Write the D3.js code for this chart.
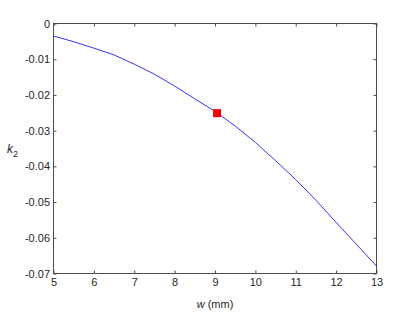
<!DOCTYPE html>
<html><head><meta charset="utf-8">
<script src="https://cdn.jsdelivr.net/npm/d3@7"></script>
<style>body{margin:0;background:#fff}svg{display:block}text{font-family:"Liberation Sans",Arial,sans-serif}</style>
</head><body>
<script>
const widths = [5, 5.5, 6, 6.5, 7, 7.5, 8, 8.5, 9, 9.5, 10, 10.5, 11, 11.5, 12, 12.5, 13];
const k2 = [-0.0035, -0.0051, -0.0069, -0.0088, -0.0114, -0.0142, -0.0175, -0.0211, -0.0246,
            -0.0287, -0.0333, -0.0384, -0.0437, -0.0495, -0.0557, -0.0618, -0.0679];
const markerW = [9.05];
const markerK = [-0.0251];
const xTicks = [5, 6, 7, 8, 9, 10, 11, 12, 13];
const yTicks = [0, -0.01, -0.02, -0.03, -0.04, -0.05, -0.06, -0.07];

const W = 415, H = 312;
const m = {l: 53.5, r: 376.5, t: 23.5, b: 273.5};
const svg = d3.select("body").append("svg").attr("width", W).attr("height", H);
const x = d3.scaleLinear().domain([5, 13]).range([m.l, m.r]);
const y = d3.scaleLinear().domain([-0.07, 0]).range([m.b, m.t]);
const fmt = d => d === 0 ? "0" : d3.format(".2f")(d).replace("−", "-");

const ax = "#4d4d4d";
svg.append("rect").attr("x", m.l).attr("y", m.t).attr("width", m.r - m.l).attr("height", m.b - m.t)
  .attr("fill", "none").attr("stroke", ax).attr("stroke-width", 1);

const xb = svg.append("g").attr("transform", `translate(0,${m.b})`)
  .call(d3.axisBottom(x).tickValues(xTicks).tickSize(-3).tickPadding(4.5).tickFormat(d3.format("d")));
const xt = svg.append("g").attr("transform", `translate(0,${m.t})`)
  .call(d3.axisTop(x).tickValues(xTicks).tickSize(-3).tickFormat(""));
const yl = svg.append("g").attr("transform", `translate(${m.l},0)`)
  .call(d3.axisLeft(y).tickValues(yTicks).tickSize(-3).tickPadding(3.5).tickFormat(fmt));
const yr = svg.append("g").attr("transform", `translate(${m.r},0)`)
  .call(d3.axisRight(y).tickValues(yTicks).tickSize(-3).tickFormat(""));
[xb, xt, yl, yr].forEach(g => {
  g.select(".domain").remove();
  g.selectAll(".tick line").attr("stroke", ax);
  g.selectAll("text").attr("fill", "#262626").style("font-size", "11px").style("font-family", '"Liberation Sans",Arial,sans-serif');
});

const line = d3.line().x((d, i) => x(widths[i])).y(d => y(d));
svg.append("path").datum(k2).attr("d", line).attr("fill", "none")
  .attr("stroke", "#0000ff").attr("stroke-width", 0.8);

svg.selectAll(".mk").data(markerW).enter().append("rect")
  .attr("x", (d) => x(d) - 4).attr("y", (d, i) => y(markerK[i]) - 4)
  .attr("width", 8).attr("height", 8).attr("fill", "#ff0000");

const xl = svg.append("text").attr("x", (m.l + m.r) / 2).attr("y", 308).attr("text-anchor", "middle")
  .attr("fill", "#262626").style("font-size", "11px");
xl.append("tspan").attr("font-style", "italic").text("w");
xl.append("tspan").text(" (mm)");

const yLab = svg.append("text").attr("x", 7).attr("y", 153).attr("fill", "#262626").style("font-size", "12px");
yLab.append("tspan").attr("font-style", "italic").text("k");
yLab.append("tspan").attr("dy", 4).style("font-size", "9px").text("2");
</script>
</body></html>
